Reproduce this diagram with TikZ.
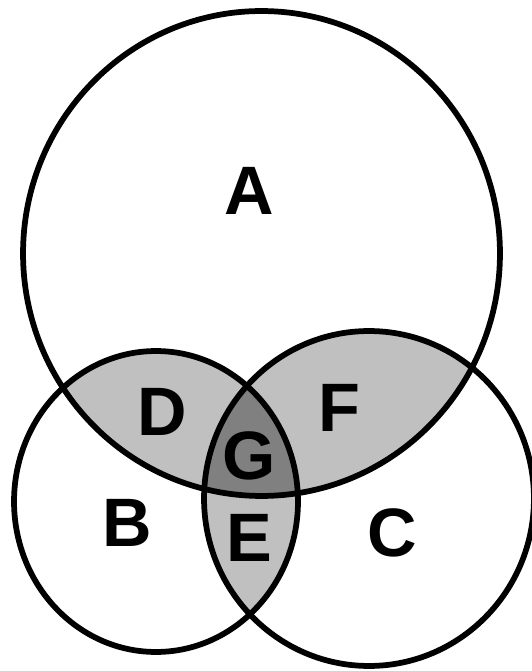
\documentclass[tikz,border=0pt]{standalone}
\usepackage{fontspec}
\setmainfont{Liberation Sans}
\definecolor{pairgray}{HTML}{C0C0C0}
\definecolor{triplegray}{HTML}{808080}
\begin{document}
\begin{tikzpicture}[x=0.02cm,y=-0.02cm,
    setline/.style={line width=0.115cm, draw=black},
    region/.style={font=\fontsize{39}{39}\selectfont\bfseries, inner sep=0pt, anchor=center}]
  \useasboundingbox (0,0) rectangle (531,671);
  \fill[white] (0,0) rectangle (531,671);
  % the three sets
  \def\setA{(261.5,253.5) ellipse [x radius=4.77cm, y radius=4.85cm]}
  \def\setB{(156,501.5) ellipse [x radius=2.84cm, y radius=3.01cm]}
  \def\setC{(369,498.5) ellipse [x radius=3.30cm, y radius=3.35cm]}
  % pairwise overlaps
  \begin{scope}
    \clip \setA; \fill[pairgray] \setB;
  \end{scope}
  \begin{scope}
    \clip \setA; \fill[pairgray] \setC;
  \end{scope}
  \begin{scope}
    \clip \setB; \fill[pairgray] \setC;
  \end{scope}
  % common part of all three
  \begin{scope}
    \clip \setA; \clip \setB; \fill[triplegray] \setC;
  \end{scope}
  \draw[setline] \setA;
  \draw[setline] \setB;
  \draw[setline] \setC;
  % region labels
  \node[region] (lA) at (249,191) {A};
  \node[region] (lB) at (127,523) {B};
  \node[region] (lC) at (392,533) {C};
  \node[region] (lD) at (162,412) {D};
  \node[region] (lE) at (249,538) {E};
  \node[region] (lF) at (339,408) {F};
  \node[region] (lG) at (249,456) {G};
\end{tikzpicture}
\end{document}
